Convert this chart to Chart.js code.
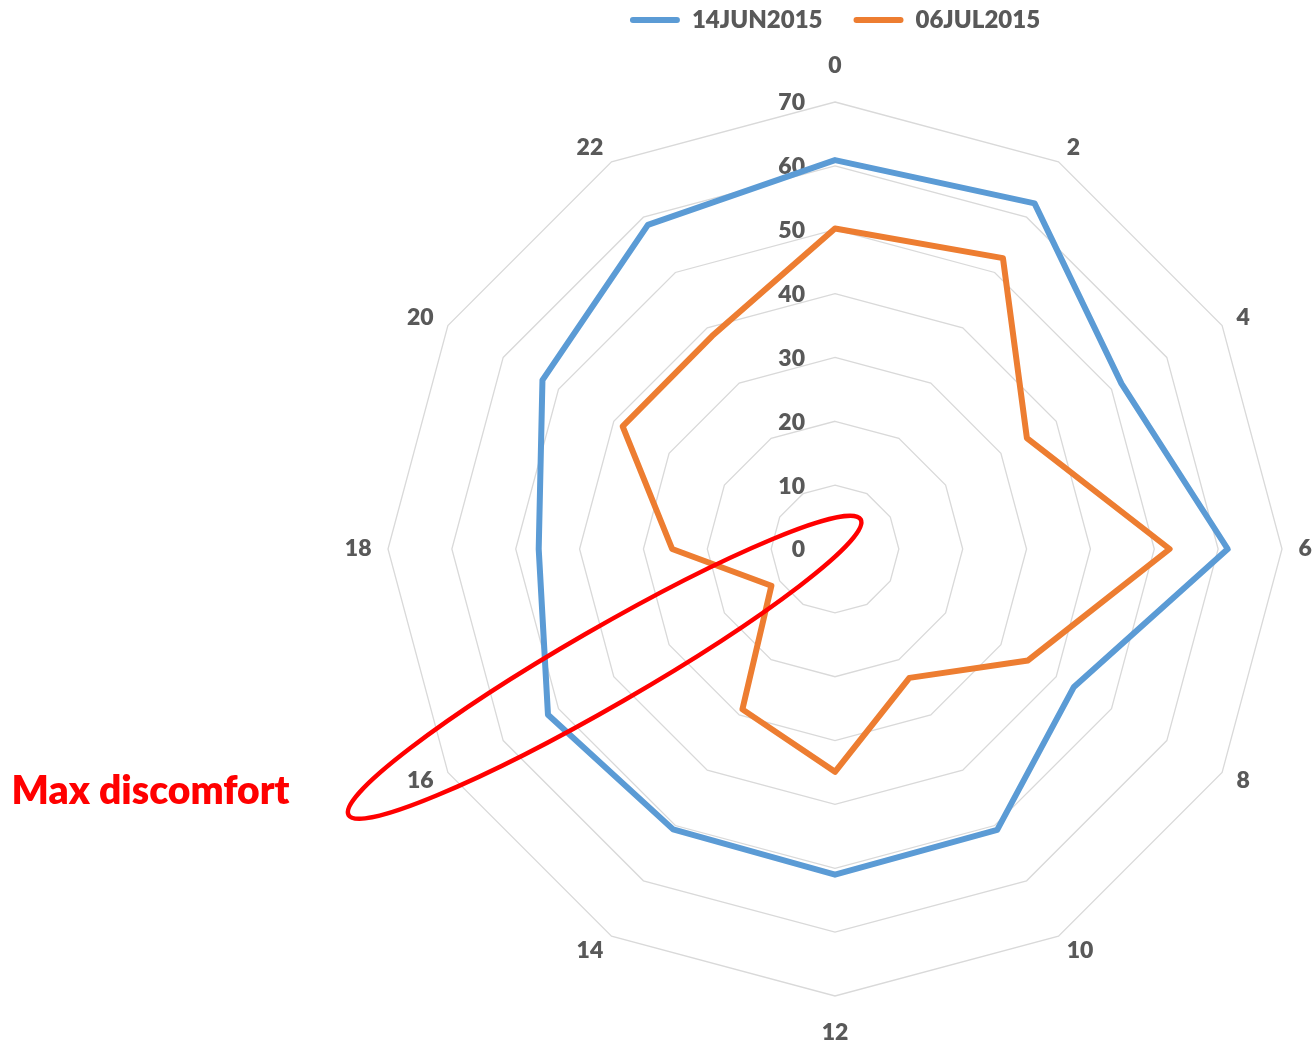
<!DOCTYPE html>
<html>
<head>
<meta charset="utf-8">
<title>Discomfort by hour</title>
<script src="https://cdn.jsdelivr.net/npm/chart.js@4.4.1/dist/chart.umd.min.js"></script>
<style>
  html, body { margin: 0; padding: 0; background: #ffffff; overflow: hidden; }
  #wrap { position: relative; width: 1420px; height: 1047px; }
</style>
</head>
<body>
<div id="wrap"><canvas id="radar"></canvas></div>
<script>
// Hour of day (spokes)
const hours = ['0', '2', '4', '6', '8', '10', '12', '14', '16', '18', '20', '22'];

// Series names
const seriesNames = ['14JUN2015', '06JUL2015'];

// Values per hour
const jun14 = [60.9, 62.5, 51.8, 61.5, 43.2, 50.8, 51.0, 50.7, 51.9, 46.4, 52.9, 58.6];
const jul06 = [50.2, 52.6, 34.7, 52.4, 34.9, 23.3, 34.9, 29.0, 11.5, 25.5, 38.4, 38.5];

// Radial axis
const radialMin = 0;
const radialMax = 70;
const radialStep = 10;

// Callout
const noteText = 'Max discomfort';
const noteSpokeIndex = 8;      // the "16" spoke
const noteCenterValue = 40.5;  // ellipse centre along that spoke
const noteHalfLength = 46.3;   // semi-major axis, in axis units
const noteHalfWidth = 6;       // semi-minor axis, in axis units
const noteSideShift = 2;       // sideways shift of the ellipse, in axis units

const FONT = 'Lato, "Open Sans", "DejaVu Sans", sans-serif';
const WEIGHT = '800';
const GREY = '#595959';
const BLUE = '#5B9BD5';
const ORANGE = '#ED7D31';

// Value labels of the radial axis, right-aligned just left of the vertical axis
const radialValueLabels = {
  id: 'radialValueLabels',
  beforeDatasetsDraw(chart) {
    const s = chart.scales.r;
    const ctx = chart.ctx;
    ctx.save();
    ctx.font = WEIGHT + ' 23px ' + FONT;
    ctx.fillStyle = GREY;
    ctx.textAlign = 'right';
    ctx.textBaseline = 'middle';
    s.ticks.forEach(t => {
      const d = s.getDistanceFromCenterForValue(t.value);
      ctx.fillText(t.label, s.xCenter - 30, s.yCenter - d + 1);
    });
    ctx.restore();
  }
};

// Red ellipse around the "16" spoke with its caption
const discomfortCallout = {
  id: 'discomfortCallout',
  afterDraw(chart) {
    const s = chart.scales.r;
    const ctx = chart.ctx;
    const angle = s.getIndexAngle(noteSpokeIndex) - Math.PI / 2;
    const mid = s.getPointPosition(noteSpokeIndex, s.getDistanceFromCenterForValue(noteCenterValue));
    const shift = s.getDistanceFromCenterForValue(noteSideShift);
    const cx = mid.x + shift * Math.cos(angle + Math.PI / 2);
    const cy = mid.y + shift * Math.sin(angle + Math.PI / 2);
    const a = s.getDistanceFromCenterForValue(noteHalfLength);
    const b = s.getDistanceFromCenterForValue(noteHalfWidth);

    ctx.save();
    ctx.strokeStyle = '#FF0000';
    ctx.lineWidth = 4.5;
    ctx.beginPath();
    ctx.ellipse(cx, cy, a, b, angle, 0, Math.PI * 2);
    ctx.stroke();

    // caption to the left of the ellipse's outer end
    const endX = cx + a * Math.cos(angle);
    const endY = cy + a * Math.sin(angle);
    ctx.font = WEIGHT + ' 39px ' + FONT;
    ctx.fillStyle = '#FF0000';
    ctx.textAlign = 'right';
    ctx.textBaseline = 'middle';
    ctx.fillText(noteText, endX - 59, endY - 24);
    ctx.restore();
  }
};

new Chart(document.getElementById('radar'), {
  type: 'radar',
  data: {
    labels: hours,
    datasets: [
      {
        label: seriesNames[0],
        data: jun14,
        borderColor: BLUE,
        backgroundColor: BLUE,
        borderWidth: 6,
        borderJoinStyle: 'round',
        pointRadius: 0,
        pointHoverRadius: 0,
        fill: false
      },
      {
        label: seriesNames[1],
        data: jul06,
        borderColor: ORANGE,
        backgroundColor: ORANGE,
        borderWidth: 6,
        borderJoinStyle: 'round',
        pointRadius: 0,
        pointHoverRadius: 0,
        fill: false
      }
    ]
  },
  options: {
    responsive: true,
    maintainAspectRatio: false,
    animation: false,
    layout: { padding: { left: 250, right: 0, top: -23, bottom: 0 } },
    plugins: {
      legend: {
        position: 'top',
        align: 'center',
        labels: {
          boxWidth: 50,
          boxHeight: 6,
          padding: 31,
          color: GREY,
          useBorderRadius: true,
          borderRadius: 3,
          font: { family: FONT, size: 24, weight: WEIGHT },
          generateLabels(chart) {
            const items = Chart.defaults.plugins.legend.labels.generateLabels(chart);
            items.forEach(it => { it.lineWidth = 0; it.fillStyle = it.strokeStyle; });
            return items;
          }
        }
      },
      // blank strip between the legend and the plot
      title: {
        display: true,
        text: ' ',
        weight: 500,
        padding: 0,
        font: { size: 10, lineHeight: '11px' }
      },
      tooltip: { enabled: false }
    },
    scales: {
      r: {
        min: radialMin,
        max: radialMax,
        beginAtZero: true,
        ticks: { display: false, stepSize: radialStep },
        grid: { color: '#D9D9D9', lineWidth: 1.3 },
        angleLines: { display: false },
        pointLabels: {
          color: GREY,
          padding: ctx => (ctx.index % 6 === 0 ? 22.4 : 16.5),
          font: ctx => ({
            family: FONT,
            size: 23,
            weight: WEIGHT,
            lineHeight: ctx.index % 6 === 0 ? 1.2 : 0
          })
        }
      }
    }
  },
  plugins: [radialValueLabels, discomfortCallout]
});
</script>
</body>
</html>
